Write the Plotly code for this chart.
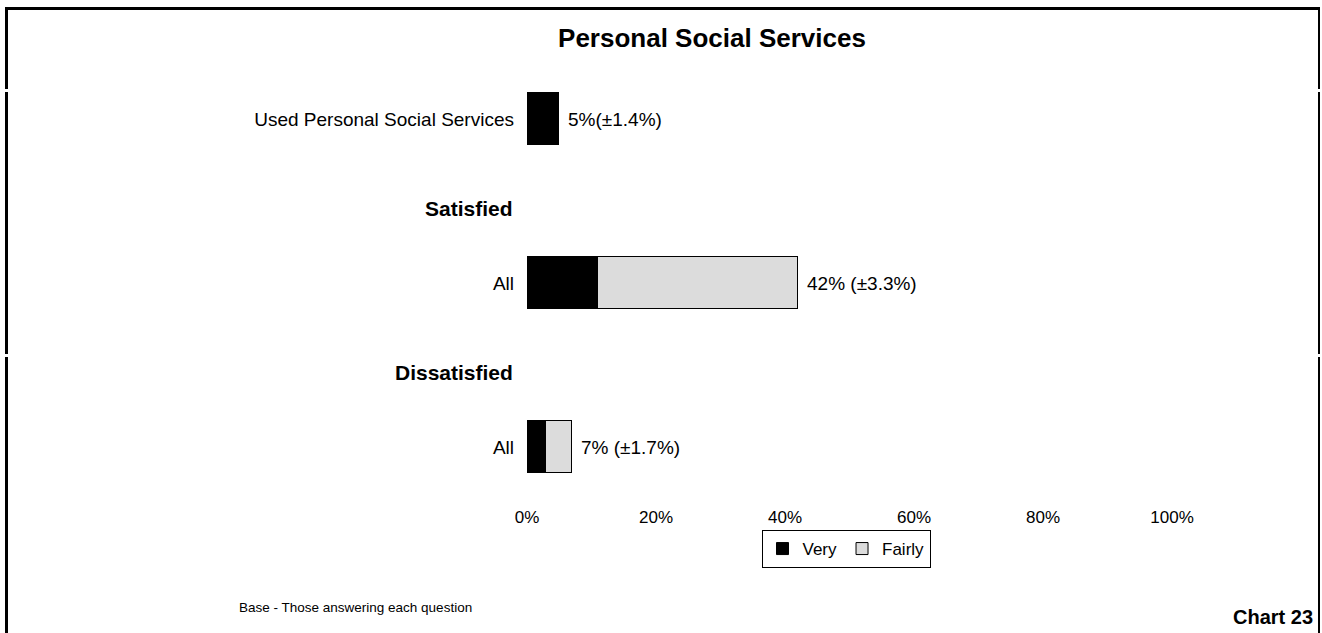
import plotly.graph_objects as go

# ---- data ----
row_keys = ["Used Personal Social Services", "Satisfied", "Satisfied - All",
            "Dissatisfied", "Dissatisfied - All"]
row_ticktext = ["Used Personal Social Services", "", "All", "", "All"]
headers = ["Satisfied", "Dissatisfied"]
very = [5, None, 11, None, 3]
fairly = [0, None, 31, None, 4]
value_labels = ["5%(±1.4%)", "", "42% (±3.3%)", "", "7% (±1.7%)"]
x_ticks = [0, 20, 40, 60, 80, 100]
x_ticktext = [f"{t}%" for t in x_ticks]

W, H = 1322, 633
ML, MR, MT, MB = 527, W - 1172, 78, H - 505
PW, PH = W - ML - MR, H - MT - MB
FONT = "Liberation Sans, Arial, sans-serif"


def px(x):
    return (x - ML) / PW


def py(y):
    return (H - MB - y) / PH


fig = go.Figure()
fig.add_trace(go.Bar(
    name="Very", y=row_keys, x=very, orientation="h", width=0.634,
    marker=dict(color="#000000", line=dict(color="#000000", width=1)),
    hoverinfo="skip"))
fig.add_trace(go.Bar(
    name="Fairly", y=row_keys, x=fairly, orientation="h", width=0.634,
    marker=dict(color="#dcdcdc", line=dict(color="#000000", width=1)),
    hoverinfo="skip"))

annotations = []
for k, v, f, lab in zip(row_keys, very, fairly, value_labels):
    if v is None:
        continue
    annotations.append(dict(
        x=v + (f or 0), y=k, xref="x", yref="y", text=lab, showarrow=False,
        xanchor="left", yanchor="middle", xshift=7,
        font=dict(family=FONT, size=19, color="#000")))
for h in headers:
    annotations.append(dict(
        x=0, y=h, xref="paper", yref="y", text=f"<b>{h}</b>", showarrow=False,
        xanchor="right", yanchor="middle", xshift=-12, yshift=-7,
        font=dict(family=FONT, size=21, color="#000")))
annotations.append(dict(
    x=px(237), y=py(607), xref="paper", yref="paper",
    text="Base - Those answering each question", showarrow=False,
    xanchor="left", yanchor="middle",
    font=dict(family=FONT, size=13.5, color="#000")))
annotations.append(dict(
    x=px(1315), y=py(617), xref="paper", yref="paper",
    text="<b>Chart 23</b>", showarrow=False,
    xanchor="right", yanchor="middle",
    font=dict(family=FONT, size=20, color="#000")))

# frame lines (with small gaps like the reference)
shapes = []
def seg(x0, y0, x1, y1, w):
    shapes.append(dict(type="line", xref="paper", yref="paper",
                       x0=px(x0), y0=py(y0), x1=px(x1), y1=py(y1),
                       line=dict(color="#000", width=w)))

seg(5, 8.5, 1320, 8.5, 3)
for a, b in [(7, 89), (92, 354), (357, 633)]:
    seg(6.5, a, 6.5, b, 3)
for a, b in [(8, 89), (92, 354), (357, 633)]:
    seg(1319, a, 1319, b, 2)

fig.update_layout(
    width=W, height=H,
    margin=dict(l=ML, r=MR, t=MT, b=MB, autoexpand=False),
    paper_bgcolor="white", plot_bgcolor="white",
    barmode="stack", bargap=0,
    font=dict(family=FONT, size=17, color="#000"),
    title=dict(text="<b>Personal Social Services</b>", xref="container",
               x=712 / W, xanchor="center",
               yref="container", y=1 - 38 / H, yanchor="middle",
               font=dict(family=FONT, size=26, color="#000")),
    xaxis=dict(range=[0, 100], tickvals=x_ticks, ticktext=x_ticktext,
               showgrid=False, zeroline=False, showline=False, ticks="",
               tickfont=dict(family=FONT, size=17, color="#000")),
    yaxis=dict(type="category", categoryorder="array", categoryarray=row_keys,
               tickvals=row_keys, ticktext=row_ticktext,
               range=[4.707, -0.5], showgrid=False, zeroline=False,
               showline=False, ticks="", ticklabelstandoff=12,
               tickfont=dict(family=FONT, size=19, color="#000")),
    legend=dict(orientation="h", x=px(846), xanchor="center",
                y=py(530), yanchor="top", bordercolor="#000", borderwidth=1,
                font=dict(family=FONT, size=17, color="#000"),
                itemwidth=30, tracegroupgap=0, traceorder="normal",
                bgcolor="white"),
    annotations=annotations, shapes=shapes,
)

fig.write_html("out.html",
               config={"displayModeBar": False},
               post_script="document.body.style.margin='0';"
                           "document.body.style.overflow='hidden';")
